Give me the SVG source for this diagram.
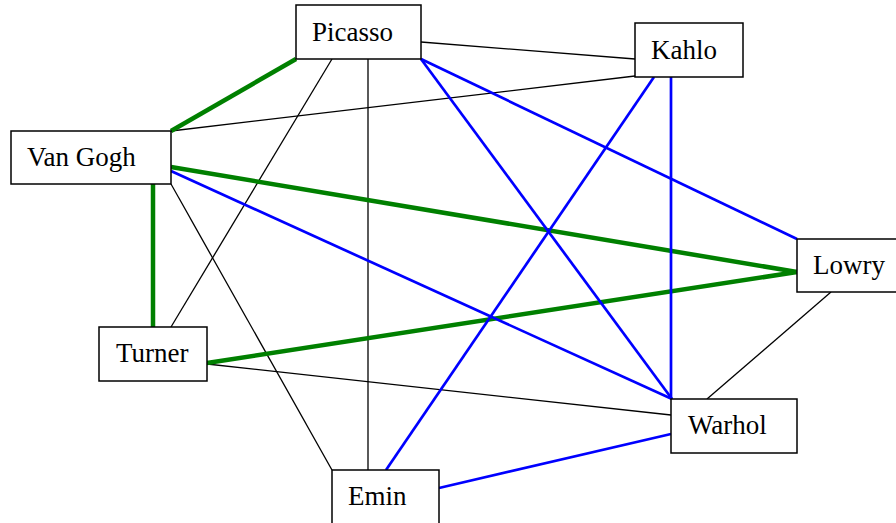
<svg xmlns="http://www.w3.org/2000/svg" width="896" height="523" viewBox="0 0 896 523">
<style>
.n rect{fill:#fff;stroke:#000;stroke-width:1.5}
.n text{font-family:"Liberation Serif","Times New Roman",serif;font-size:27px;fill:#000}
.k{stroke:#000;stroke-width:1.3;fill:none}
.g{stroke:#008000;stroke-width:4.5;fill:none}
.b{stroke:#0000ff;stroke-width:2.7;fill:none}
</style>
<rect width="896" height="523" fill="#fff"/>
<g id="edges">
<line class="k" x1="421" y1="42" x2="635" y2="59"/>
<line class="k" x1="171" y1="131" x2="635" y2="76"/>
<line class="k" x1="332" y1="59" x2="171" y2="327"/>
<line class="k" x1="368" y1="59" x2="368" y2="470"/>
<line class="k" x1="171" y1="184" x2="332" y2="470"/>
<line class="k" x1="207" y1="364" x2="671" y2="415"/>
<line class="k" x1="831" y1="292" x2="707" y2="399"/>
<line class="g" x1="296" y1="59" x2="171" y2="131"/>
<line class="g" x1="153" y1="184" x2="153" y2="327"/>
<line class="g" x1="171" y1="167" x2="797" y2="272"/>
<line class="g" x1="207" y1="363" x2="797" y2="272"/>
<line class="b" x1="421" y1="59" x2="797" y2="239"/>
<line class="b" x1="421" y1="59" x2="672" y2="399"/>
<line class="b" x1="654" y1="77" x2="386" y2="470"/>
<line class="b" x1="671" y1="77" x2="671" y2="399"/>
<line class="b" x1="171" y1="171" x2="672" y2="399"/>
<line class="b" x1="439" y1="488" x2="671" y2="434"/>
</g>
<g id="picasso" class="n"><rect x="296" y="5" width="125" height="54"/><text x="312" y="41">Picasso</text></g>
<g id="kahlo" class="n"><rect x="635" y="23" width="108" height="54"/><text x="651" y="59">Kahlo</text></g>
<g id="vangogh" class="n"><rect x="11" y="131" width="160" height="53"/><text x="27" y="166">Van Gogh</text></g>
<g id="turner" class="n"><rect x="99" y="327" width="108" height="54"/><text x="116" y="362">Turner</text></g>
<g id="lowry" class="n"><rect x="797" y="239" width="102" height="53"/><text x="813" y="274">Lowry</text></g>
<g id="warhol" class="n"><rect x="671" y="399" width="126" height="54"/><text x="688" y="434">Warhol</text></g>
<g id="emin" class="n"><rect x="332" y="470" width="107" height="54"/><text x="348" y="505">Emin</text></g>
</svg>
